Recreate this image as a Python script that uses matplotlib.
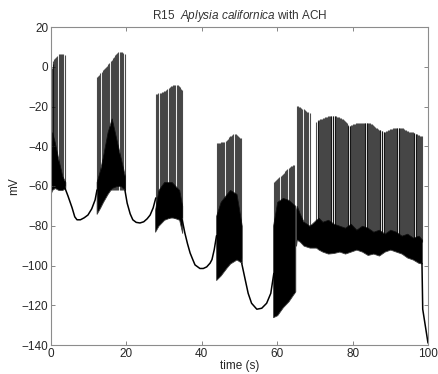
import numpy as np
import matplotlib
matplotlib.use("Agg")
import matplotlib.pyplot as plt

plt.rcParams['font.family'] = ['Liberation Sans', 'DejaVu Sans']
plt.rcParams['mathtext.fontset'] = 'custom'
plt.rcParams['mathtext.it'] = 'Liberation Sans:italic'
plt.rcParams['mathtext.rm'] = 'Liberation Sans'

# --- slow wave between bursts (s, mV) ---
gap1_t = [3.7, 4.5, 5.6, 6.3, 6.9, 7.8, 8.8, 9.8, 10.8, 11.7, 12.2]
gap1_v = [-61, -65, -71, -75.5, -77, -77, -76, -74.6, -71.5, -67, -62]
gap2_t = [19.6, 20.2, 21.0, 21.7, 22.6, 23.6, 24.6, 25.5, 26.3, 27.1, 27.8]
gap2_v = [-62, -68.6, -74, -77, -78.3, -78.6, -78, -76.5, -74.6, -71, -66]
gap3_t = [34.8, 35.5, 36.2, 36.9, 37.6, 38.2, 39.5, 40.4, 41.3, 42.2, 42.7, 43.3, 43.9]
gap3_v = [-77, -83.6, -89, -93.7, -97, -99.7, -101.5, -101.5, -100.7, -98.8, -97, -92, -85]
gap4_t = [50.6, 51.5, 52.3, 53.2, 54.6, 55.9, 57.2, 58.3, 59.1]
gap4_v = [-99, -107, -114, -119, -122, -121.5, -119, -114, -104]
gap5_t = [68.6, 69.2, 69.7, 70.3]
gap5_v = [-84, -80, -81, -84]
end_t = [98.4, 98.6, 100.0]
end_v = [-99, -122, -139]

# --- spikes: times (s) and peaks (mV) per burst ---
b1_t = [0.15, 0.4, 0.65, 0.9, 1.15, 1.4, 1.7, 2.0, 2.3, 2.6, 2.9, 3.25, 3.6]
b1_pk = [-0.5, 1.5, 2.8, 3.8, 4.5, 5.0, 5.6, 6.2, 6.6, 6.6, 6.4, 6.2, 5.8]
b2_t = [12.2, 12.5, 12.8, 13.1, 13.4, 13.7, 14.0, 14.3, 14.6, 14.9, 15.2, 15.5, 15.8,
        16.1, 16.4, 16.7, 17.0, 17.3, 17.6, 17.9, 18.2, 18.5, 18.8, 19.2, 19.5]
b2_pk = [-5, -4.5, -4, -3.2, -2.5, -1.8, -1.2, -0.6, 0, 0.6, 1.3, 2, 2.7,
         3.4, 4.2, 5, 5.8, 6.4, 6.9, 7.3, 7.6, 7.6, 7.4, 7.0, 6.6]
b3_t = [27.9, 28.2, 28.5, 28.8, 29.1, 29.4, 29.7, 30.0, 30.3, 30.6, 30.9, 31.2,
        31.5, 31.8, 32.1, 32.4, 32.7, 33.0, 33.3, 33.6, 33.9, 34.2, 34.5, 34.8]
b3_pk = [-13.8, -13.6, -13.4, -13.2, -13.0, -12.8, -12.6, -12.3, -12.0, -11.5, -11.0, -10.5,
         -10.0, -9.8, -9.6, -9.4, -9.3, -9.2, -9.2, -9.4, -9.8, -10.4, -11.0, -11.7]
b4_t = [43.9, 44.2, 44.5, 44.8, 45.1, 45.4, 45.7, 46.0, 46.3, 46.6, 46.9, 47.2,
        47.5, 47.8, 48.1, 48.4, 48.7, 49.0, 49.3, 49.6, 49.9, 50.2, 50.5]
b4_pk = [-38.5, -38.4, -38.3, -38.2, -38.1, -38.0, -37.9, -37.8, -37.6, -37.0, -36.2, -35.5,
         -35.0, -34.6, -34.2, -33.9, -33.7, -33.8, -34.2, -34.8, -35.4, -35.8, -36.0]
b5_t = [59.1, 59.4, 59.7, 60.0, 60.3, 60.6, 60.9, 61.2, 61.5, 61.8, 62.1, 62.4,
        62.7, 63.0, 63.3, 63.6, 63.9, 64.2, 64.5]
b5_pk = [-58, -57.5, -57, -56.5, -56, -55.5, -55, -54.5, -54, -53.4, -52.7, -52,
         -51.3, -50.8, -50.4, -50, -49.7, -49.5, -49.4]
b6_t = [65.2, 65.5, 65.8, 66.1, 66.4, 66.7, 67.0, 67.3, 67.6, 67.9, 68.2, 68.6]
b6_pk = [-19.7, -19.9, -20.2, -20.5, -20.8, -21.1, -21.5, -21.9, -22.3, -22.7, -23.0, -23.3]
tonic_t = [70.4, 70.7, 70.9, 71.2, 71.4, 71.7, 71.9, 72.2, 72.4, 72.7, 72.9, 73.2, 73.4,
           73.7, 73.9, 74.2, 74.4, 74.7, 74.9, 75.2, 75.4, 75.7, 75.9, 76.2, 76.4, 76.7,
           76.9, 77.2, 77.4, 77.7, 77.9, 78.2, 78.4, 78.7, 78.9, 79.2, 79.4, 79.7, 79.9,
           80.2, 80.4, 80.7, 80.9, 81.2, 81.4, 81.7, 81.9, 82.2, 82.4, 82.7, 82.9, 83.2,
           83.4, 83.7, 83.9, 84.2, 84.4, 84.7, 84.9, 85.2, 85.4, 85.7, 85.9, 86.2, 86.4,
           86.7, 86.9, 87.2, 87.4, 87.7, 87.9, 88.2, 88.4, 88.7, 88.9, 89.2, 89.4, 89.7,
           89.9, 90.2, 90.4, 90.7, 90.9, 91.2, 91.4, 91.7, 91.9, 92.2, 92.4, 92.7, 92.9,
           93.2, 93.4, 93.7, 93.9, 94.2, 94.4, 94.7, 94.9, 95.2, 95.4, 95.7, 95.9, 96.2,
           96.4, 96.7, 96.9, 97.2, 97.4, 97.7, 97.9, 98.1, 98.3]
tonic_pk = [-27.6, -27.3, -27.0, -26.7, -26.5, -26.3, -26.1, -26.0, -25.8, -25.5, -25.3, -25.1, -25.0,
            -24.9, -24.8, -24.7, -24.6, -24.6, -24.6, -24.7, -24.8, -25.0, -25.2, -25.3, -25.5, -25.7,
            -25.9, -26.2, -26.5, -26.9, -27.3, -27.8, -28.3, -29.1, -29.8, -29.7, -29.6, -29.4, -29.2,
            -29.0, -28.8, -28.6, -28.4, -28.3, -28.2, -28.1, -28.1, -28.1, -28.1, -28.1, -28.2, -28.2,
            -28.2, -28.3, -28.3, -28.3, -28.4, -28.5, -28.7, -29.0, -29.3, -29.8, -30.2, -30.6, -31.0,
            -31.3, -31.6, -31.7, -31.9, -32.2, -32.5, -32.6, -32.7, -32.6, -32.5, -32.2, -32.0, -31.7,
            -31.5, -31.3, -31.1, -31.0, -30.9, -30.8, -30.8, -30.7, -30.7, -30.7, -30.7, -30.7, -30.8,
            -30.9, -31.0, -31.3, -31.6, -31.9, -32.2, -32.4, -32.6, -32.7, -32.7, -32.8, -33.0, -33.2,
            -33.4, -33.6, -33.8, -34.0, -34.2, -34.4, -34.6, -34.7, -34.8]
spike_floor = [-60, -62, -76, -96, -114, -85, -88]

# --- dense core of each burst (overlapping spike undershoots) ---
c1_t = [0.0, 0.3, 1.0, 2.0, 3.0, 3.8]
c1_top = [-45, -33, -38, -47, -55, -58]
c1_bot = [-63.5, -62, -61, -62, -62, -61]
c2_t = [12.1, 13.0, 13.8, 15.0, 16.1, 17.4, 18.5, 19.6]
c2_top = [-58, -52, -45, -33, -26, -37, -46, -55]
c2_bot = [-74, -71, -68, -64, -61, -60, -60, -62]
c3_t = [27.6, 28.5, 30.0, 32.0, 34.0, 34.8]
c3_top = [-72, -62, -58, -58, -62, -70]
c3_bot = [-83, -80, -77, -75.5, -77, -83.6]
c4_t = [43.8, 45.0, 46.6, 47.5, 49.2, 50.6]
c4_top = [-75, -68, -64, -62, -64, -80]
c4_bot = [-107.3, -105, -101, -99, -97, -98.7]
c5_t = [58.9, 60.0, 61.5, 63.0, 64.8]
c5_top = [-80, -68, -66, -67, -70]
c5_bot = [-126, -125, -121, -118, -113]
c6_t = [65.0, 65.2, 66.0, 67.0, 68.6, 70.3, 71.0, 72.0, 73.5, 75.0, 76.5, 78.0, 79.5,
        81.0, 82.5, 84.0, 85.5, 87.0, 88.5, 90.0, 91.5, 93.0, 94.5, 96.0, 97.5, 98.4]
c6_top = [-72, -70, -74, -78, -80, -77, -76, -78, -77, -79, -80, -81, -79,
          -82, -80, -81, -83, -82, -84, -82, -83, -85, -84, -86, -85, -87]
c6_bot = [-90, -87, -88, -90, -91, -91, -92, -93, -94, -93.7, -93, -94, -93,
          -92, -93, -94.7, -94, -95, -93, -92, -93, -94, -96, -97, -98.7, -99]

fig = plt.figure(figsize=(4.39, 3.74), dpi=100)
ax = fig.add_axes([51 / 439, 29 / 374, 377 / 439, 318 / 374])

# slow waves
for t, v in [(gap1_t, gap1_v), (gap2_t, gap2_v), (gap3_t, gap3_v),
             (gap4_t, gap4_v), (gap5_t, gap5_v), (end_t, end_v)]:
    ax.plot(t, v, color='black', lw=1.1, solid_capstyle='round')

# burst cores
for t, top, bot in [(c1_t, c1_top, c1_bot), (c2_t, c2_top, c2_bot), (c3_t, c3_top, c3_bot),
                    (c4_t, c4_top, c4_bot), (c5_t, c5_top, c5_bot), (c6_t, c6_top, c6_bot)]:
    ax.fill_between(t, bot, top, color='black', lw=0.6, edgecolor='0.25')

# individual spikes
bursts = [(b1_t, b1_pk), (b2_t, b2_pk), (b3_t, b3_pk), (b4_t, b4_pk),
          (b5_t, b5_pk), (b6_t, b6_pk), (tonic_t, tonic_pk)]
for (t, pk), floor in zip(bursts, spike_floor):
    ax.vlines(t, floor, pk, color='black', lw=0.8, alpha=0.7)

ax.set_xlim(0, 100)
ax.set_ylim(-140, 20)
ax.set_xticks(np.arange(0, 101, 20))
ax.set_yticks(np.arange(-140, 21, 20))
ax.tick_params(direction='in', length=3, width=0.6, top=True, right=True,
               labelsize=8.5, colors='0.45', labelcolor='0.15', pad=2)
for s in ax.spines.values():
    s.set_color('0.55')
    s.set_linewidth(0.8)

ax.set_title(r"R15  $\mathit{Aplysia\ californica}$ with ACH", fontsize=8.5, color='0.2', pad=6)
ax.set_xlabel("time (s)", fontsize=8.5, color='0.15', labelpad=0)
ax.set_ylabel("mV", fontsize=8.5, color='0.15', labelpad=1)

fig.savefig("out.png", dpi=100)
